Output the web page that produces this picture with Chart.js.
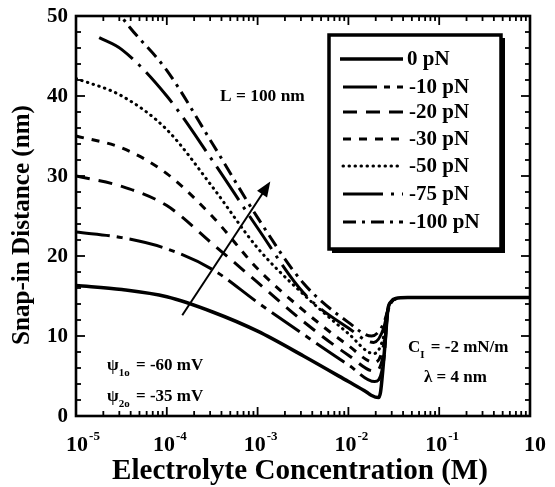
<!DOCTYPE html>
<html>
<head>
<meta charset="utf-8">
<script src="https://cdn.jsdelivr.net/npm/chart.js@4.4.1/dist/chart.umd.min.js"></script>
<style>
  html, body { margin: 0; padding: 0; background: #fff; }
  #wrap { width: 555px; height: 487px; }
</style>
</head>
<body>
<div id="wrap"><canvas id="snap-chart"></canvas></div>
<script>
// legend labels, one per curve (force in pN)
var seriesNames = ['0 pN', '-10 pN', '-20 pN', '-30 pN', '-50 pN', '-75 pN', '-100 pN'];

// electrolyte concentration (M) and snap-in distance (nm)
var conc0  = [1e-5, 3.2e-5, 1e-4, 3.2e-4, 1e-3, 3.2e-3, 1e-2, 0.0158, 0.0178, 0.0214, 0.0226, 0.0251, 0.0272, 0.0295, 0.0331, 0.045, 1];
var snap0  = [16.3, 15.8, 14.9, 13.0, 10.6, 7.5, 4.3, 3.0, 2.6, 2.3, 3.0, 8.5, 13.3, 14.3, 14.7, 14.8, 14.8];

var conc10 = [1e-5, 3.2e-5, 1e-4, 3.2e-4, 1e-3, 3.2e-3, 1e-2, 0.0195, 0.0245, 0.0272, 0.0305, 0.034];
var snap10 = [23.0, 22.3, 20.9, 18.3, 14.2, 10.2, 6.4, 4.3, 7.0, 13.2, 14.4, 14.7];

var conc20 = [1e-5, 3.2e-5, 1e-4, 3.2e-4, 1e-3, 3.2e-3, 1e-2, 0.0195, 0.0245, 0.0272, 0.0305, 0.034];
var snap20 = [30.0, 28.7, 26.3, 21.5, 16.7, 11.8, 7.6, 5.6, 8.0, 13.2, 14.4, 14.7];

var conc30 = [1e-5, 3.2e-5, 1e-4, 3.2e-4, 1e-3, 3.2e-3, 1e-2, 0.0195, 0.0245, 0.0272, 0.0305, 0.034];
var snap30 = [35.0, 33.5, 30.3, 24.9, 18.4, 13.2, 8.8, 6.7, 9.0, 13.2, 14.4, 14.7];

var conc50 = [1e-5, 3.2e-5, 1e-4, 3.2e-4, 1e-3, 3.2e-3, 1e-2, 0.019, 0.0245, 0.0272, 0.0305, 0.034];
var snap50 = [42.2, 40.0, 35.8, 28.6, 21.0, 15.2, 10.3, 7.8, 10.0, 13.2, 14.4, 14.7];

var conc75 = [1.8e-5, 3.2e-5, 1e-4, 3.2e-4, 1e-3, 3.2e-3, 1e-2, 0.019, 0.0245, 0.0272, 0.0305, 0.034];
var snap75 = [47.3, 45.8, 40.0, 31.9, 23.5, 15.4, 11.0, 9.2, 11.0, 13.2, 14.4, 14.7];

var conc100 = [2.5e-5, 3.9e-5, 1e-4, 3.2e-4, 1e-3, 3.2e-3, 1e-2, 0.018, 0.0245, 0.0272, 0.0305, 0.034];
var snap100 = [51.5, 48.6, 43.2, 34.0, 24.8, 16.6, 11.7, 10.0, 11.6, 13.2, 14.4, 14.7];

// tick labels
var xExponents = ['-5', '-4', '-3', '-2', '-1', ''];
var yTicks = [0, 10, 20, 30, 40, 50];

var allConc = [conc0, conc10, conc20, conc30, conc50, conc75, conc100];
var allSnap = [snap0, snap10, snap20, snap30, snap50, snap75, snap100];
var dashes = [[], [34, 7, 6, 7], [14, 9], [8, 8], [0.5, 5.5], [40, 8, 3, 8], [13, 6, 3, 6]];
var widths = [3.5, 3, 3, 3, 3, 3, 3];

function toPoints(xs, ys) {
  return xs.map(function (x, i) { return { x: x, y: ys[i] }; });
}

var datasets = seriesNames.map(function (name, i) {
  return {
    label: name,
    data: toPoints(allConc[i], allSnap[i]),
    borderColor: '#000',
    borderWidth: widths[i],
    borderDash: dashes[i],
    borderCapStyle: i === 4 ? 'round' : 'butt',
    pointRadius: 0,
    fill: false,
    cubicInterpolationMode: 'monotone'
  };
});

var SERIF = '"Liberation Serif", "Times New Roman", serif';

function fitFont(ctx, text, width, size) {
  ctx.font = 'bold ' + size + 'px ' + SERIF;
  var w = ctx.measureText(text).width;
  size = size * width / w;
  ctx.font = 'bold ' + size.toFixed(1) + 'px ' + SERIF;
}

// frame, inward ticks, tick labels, axis titles, notes
var decorations = {
  id: 'decorations',
  afterDatasetsDraw: function (chart) {
    var ctx = chart.ctx, a = chart.chartArea;
    var xs = chart.scales.x, ys = chart.scales.y;
    ctx.save();
    ctx.strokeStyle = '#000';
    ctx.fillStyle = '#000';

    function seg(x1, y1, x2, y2) {
      ctx.beginPath(); ctx.moveTo(x1, y1); ctx.lineTo(x2, y2); ctx.stroke();
    }

    ctx.lineWidth = 1.8;
    for (var v = 0; v <= 50; v += 2) {
      var py = ys.getPixelForValue(v);
      var len = v % 10 === 0 ? 9 : 5;
      seg(a.left, py, a.left + len, py);
      seg(a.right, py, a.right - len, py);
    }
    for (var e = -5; e < 0; e++) {
      for (var m = 1; m <= 9; m++) {
        var px = xs.getPixelForValue(m * Math.pow(10, e));
        var l = m === 1 ? 9 : 5;
        seg(px, a.bottom, px, a.bottom - l);
        seg(px, a.top, px, a.top + l);
      }
    }

    ctx.lineWidth = 2.6;
    ctx.strokeRect(a.left, a.top, a.right - a.left, a.bottom - a.top);

    // y tick labels
    ctx.font = 'bold 21px ' + SERIF;
    ctx.textAlign = 'right';
    ctx.textBaseline = 'middle';
    yTicks.forEach(function (t) {
      ctx.fillText(String(t), a.left - 8, ys.getPixelForValue(t) + 1);
    });

    // x tick labels: 10 with superscript exponent
    ctx.textBaseline = 'alphabetic';
    ctx.textAlign = 'left';
    xExponents.forEach(function (ex, i) {
      var px = xs.getPixelForValue(Math.pow(10, i - 5));
      ctx.font = 'bold 22px ' + SERIF;
      var w1 = ctx.measureText('10').width;
      ctx.font = 'bold 13px ' + SERIF;
      var w2 = ex ? ctx.measureText(ex).width + 1 : 0;
      var x0 = px - (w1 + w2) / 2 + (i === 0 ? 7 : 3);
      if (i === 5) x0 = px - 6;
      ctx.font = 'bold 22px ' + SERIF;
      ctx.fillText('10', x0, 451);
      if (ex) {
        ctx.font = 'bold 13px ' + SERIF;
        ctx.fillText(ex, x0 + w1 + 1, 440);
      }
    });

    // axis titles
    ctx.textAlign = 'center';
    ctx.textBaseline = 'middle';
    fitFont(ctx, 'Electrolyte Concentration (M)', 376, 22);
    ctx.fillText('Electrolyte Concentration (M)', 300, 471);

    ctx.save();
    ctx.translate(23, 225);
    ctx.rotate(-Math.PI / 2);
    fitFont(ctx, 'Snap-in Distance (nm)', 240, 20);
    ctx.fillText('Snap-in Distance (nm)', 0, 0);
    ctx.restore();

    // notes
    ctx.textAlign = 'left';
    fitFont(ctx, 'L = 100 nm', 85, 15);
    ctx.fillText('L = 100 nm', 220, 97);

    function subLabel(main, sub, rest, x, y) {
      ctx.font = 'bold 17px ' + SERIF;
      ctx.fillText(main, x, y);
      var w = ctx.measureText(main).width;
      ctx.font = 'bold 11px ' + SERIF;
      ctx.fillText(sub, x + w, y + 7);
      var ws = ctx.measureText(sub).width;
      ctx.font = 'bold 17px ' + SERIF;
      ctx.fillText(rest, x + w + ws + 2, y);
    }
    subLabel('\u03c8', '1o', ' = -60 mV', 107, 366);
    subLabel('\u03c8', '2o', ' = -35 mV', 107, 397);
    subLabel('C', 'I', ' = -2 mN/m', 408, 348);
    ctx.font = 'bold 17px ' + SERIF;
    ctx.fillText('\u03bb = 4 nm', 424, 378);

    // arrow showing increasing pull-off force
    var x1 = xs.getPixelForValue(1.48e-4), y1 = ys.getPixelForValue(12.6);
    var x2 = xs.getPixelForValue(1.38e-3), y2 = ys.getPixelForValue(29.3);
    var ang = Math.atan2(y2 - y1, x2 - x1);
    ctx.lineWidth = 2;
    seg(x1, y1, x2 - 10 * Math.cos(ang), y2 - 10 * Math.sin(ang));
    ctx.beginPath();
    ctx.moveTo(x2, y2);
    ctx.lineTo(x2 - 15 * Math.cos(ang) + 6 * Math.sin(ang), y2 - 15 * Math.sin(ang) - 6 * Math.cos(ang));
    ctx.lineTo(x2 - 15 * Math.cos(ang) - 6 * Math.sin(ang), y2 - 15 * Math.sin(ang) + 6 * Math.cos(ang));
    ctx.closePath();
    ctx.fill();

    ctx.restore();
  }
};

// boxed legend inside the plot
var boxLegend = {
  id: 'boxLegend',
  afterDraw: function (chart) {
    var ctx = chart.ctx;
    var box = { left: 329, top: 35, right: 501, bottom: 249 };
    ctx.save();
    ctx.fillStyle = '#fff';
    ctx.fillRect(box.left, box.top, box.right - box.left, box.bottom - box.top);
    // shadow on the right and bottom
    ctx.fillStyle = '#000';
    ctx.fillRect(box.right, box.top + 3, 4, box.bottom - box.top + 1);
    ctx.fillRect(box.left + 3, box.bottom, box.right - box.left + 1, 4);
    ctx.lineWidth = 3.5;
    ctx.strokeStyle = '#000';
    ctx.strokeRect(box.left, box.top, box.right - box.left, box.bottom - box.top);

    var rows = [59, 87, 112, 139, 166, 194, 222];
    ctx.font = 'bold 21px ' + SERIF;
    ctx.textBaseline = 'middle';
    ctx.textAlign = 'left';
    chart.data.datasets.forEach(function (ds, i) {
      ctx.lineWidth = ds.borderWidth;
      ctx.setLineDash(ds.borderDash);
      ctx.lineCap = ds.borderCapStyle;
      ctx.beginPath();
      ctx.moveTo(i === 0 ? 340 : 343, rows[i]);
      ctx.lineTo(403, rows[i]);
      ctx.stroke();
      ctx.setLineDash([]);
      ctx.fillText(ds.label, i === 0 ? 407 : 409, rows[i] + 1);
    });
    ctx.restore();
  }
};

var chart = new Chart(document.getElementById('snap-chart'), {
  type: 'line',
  data: { datasets: datasets },
  options: {
    responsive: true,
    maintainAspectRatio: false,
    animation: false,
    devicePixelRatio: 1,
    layout: { padding: { left: 76, top: 16, right: 25, bottom: 71 } },
    plugins: { legend: { display: false }, tooltip: { enabled: false } },
    scales: {
      x: { type: 'logarithmic', min: 1e-5, max: 1, display: false },
      y: { type: 'linear', min: 0, max: 50, display: false }
    }
  },
  plugins: [decorations, boxLegend]
});
</script>
</body>
</html>
